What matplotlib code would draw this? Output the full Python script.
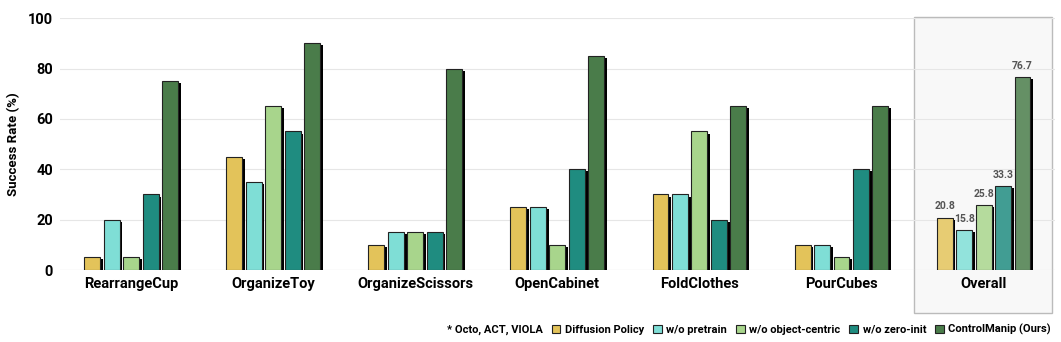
import numpy as np
import matplotlib.pyplot as plt
import matplotlib.patheffects as pe
import matplotlib.colors as mcolors
from matplotlib.patches import Rectangle, Patch
import matplotlib.transforms as mtransforms

plt.rcParams['font.family'] = ['Roboto', 'DejaVu Sans']

# data
tasks = ['RearrangeCup', 'OrganizeToy', 'OrganizeScissors', 'OpenCabinet',
         'FoldClothes', 'PourCubes', 'Overall']
methods = ['Diffusion Policy', 'w/o pretrain', 'w/o object-centric',
           'w/o zero-init', 'ControlManip (Ours)']
diffusion_policy = [5, 45, 10, 25, 30, 10, 20.8]
wo_pretrain = [20, 35, 15, 25, 30, 10, 15.8]
wo_object_centric = [5, 65, 15, 10, 55, 5, 25.8]
wo_zero_init = [30, 55, 15, 40, 20, 40, 33.3]
controlmanip = [75, 90, 80, 85, 65, 65, 76.7]
series = [diffusion_policy, wo_pretrain, wo_object_centric, wo_zero_init, controlmanip]
colors = ['#e3c35a', '#7fded6', '#a8d58c', '#1f8c80', '#4a7c4a']


def lighten(c, a=0.85):
    # opaque version of colour c drawn at alpha a on white
    r = np.array(mcolors.to_rgb(c))
    return tuple(r * a + (1 - a))


fig = plt.figure(figsize=(10.61, 3.42), dpi=100)
ax = fig.add_axes([0.0566, 0.2105, 0.9374, 0.7365])

x = np.arange(len(tasks))
step = 0.137
width = 0.112
shadow = [pe.SimplePatchShadow(offset=(2, -1.5), shadow_rgbFace='black', alpha=1.0),
          pe.Normal()]

for i, (vals, col) in enumerate(zip(series, colors)):
    pos = x + (i - 2) * step
    # per-task bars
    bars = ax.bar(pos[:-1], vals[:-1], width=width, color=col, edgecolor='#222222',
                  linewidth=0.8, zorder=3)
    for b in bars:
        b.set_path_effects(shadow)
    # overall bar, slightly faded
    ob = ax.bar(pos[-1:], vals[-1:], width=width, color=lighten(col),
                edgecolor='#222222', linewidth=0.8, zorder=3)
    for b in ob:
        b.set_path_effects(shadow)
        ax.text(b.get_x() + b.get_width() / 2, b.get_height() + 2.5,
                f'{vals[-1]:.1f}', ha='center', va='bottom', fontsize=7.5,
                fontweight='bold', color='#555555', zorder=4)

# highlight box around Overall
trans = mtransforms.blended_transform_factory(ax.transData, ax.transAxes)
box = Rectangle((5.51, -0.17), 0.97, 1.175, transform=trans, facecolor='#f8f8f8',
                edgecolor='#bbbbbb', linewidth=1.0, zorder=0, clip_on=False)
ax.add_patch(box)

ax.set_xlim(-0.5, 6.5)
ax.set_ylim(0, 100)
ax.set_xticks(x)
ax.set_xticklabels(tasks, fontsize=10.5, fontweight='bold')
ax.set_yticks([0, 20, 40, 60, 80, 100])
ax.set_yticklabels(['0', '20', '40', '60', '80', '100'], fontsize=10.5, fontweight='bold')
ax.set_ylabel('Success Rate (%)', fontsize=9.5, fontweight='bold', labelpad=6)
ax.tick_params(axis='both', length=0, pad=5)
for s in ax.spines.values():
    s.set_visible(False)
ax.set_axisbelow(True)
ax.grid(axis='y', color='#e6e6e6', linewidth=0.8, zorder=0)
ax.axhline(0, color='#e6e6e6', linewidth=0.8, zorder=1)
ax.set_facecolor('none')

handles = [Patch(facecolor='none', edgecolor='none')]
handles += [Patch(facecolor=c, edgecolor='#222222', linewidth=0.8) for c in colors]
labels = ['* Octo, ACT, VIOLA'] + methods
leg = fig.legend(handles, labels, loc='lower right', bbox_to_anchor=(1.0, -0.01),
                 ncol=6, frameon=False, handlelength=0.8, handleheight=0.8,
                 handletextpad=0.4, columnspacing=0.8, prop={'weight': 'bold', 'size': 8})
leg.legend_handles[0].set_visible(False)

fig.savefig('out.png', dpi=100)
